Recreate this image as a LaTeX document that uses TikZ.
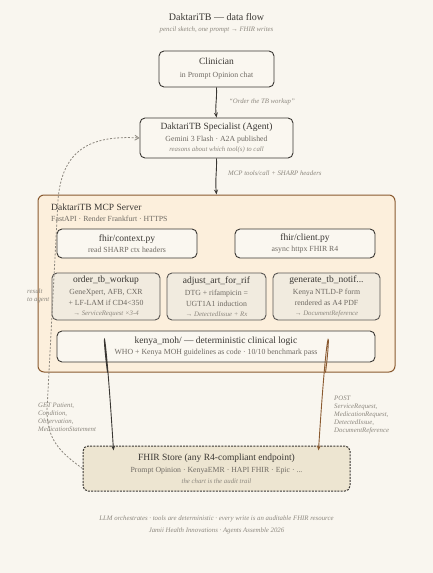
\documentclass[tikz,border=0pt]{standalone}
\usepackage{fontspec}
\setmainfont{Liberation Serif}
\usetikzlibrary{arrows.meta,calc}
\definecolor{bg}{HTML}{F9F6EF}
\definecolor{ink}{HTML}{3A3733}
\definecolor{subc}{HTML}{6E6962}
\definecolor{itc}{HTML}{8C877E}
\definecolor{srvfill}{HTML}{FCEFDC}
\definecolor{srvdraw}{HTML}{8A5A30}
\definecolor{toolfill}{HTML}{F1EBDF}
\definecolor{lightfill}{HTML}{FAF7F0}
\definecolor{storefill}{HTML}{EDE5D1}
\newcommand{\ttl}{\fontsize{9.5}{11}\selectfont\color{ink}}
\newcommand{\subt}{\fontsize{7.8}{10.5}\selectfont\color{subc}}
\newcommand{\itl}{\fontsize{6.8}{10}\selectfont\itshape\color{itc}}
\tikzset{
  box/.style={draw=ink, line width=0.9pt, rounded corners=5pt, align=center, inner sep=2pt, fill=lightfill},
  toolbox/.style={box, fill=toolfill, draw=ink!85},
  lbl/.style={align=left, inner sep=0pt, anchor=west},
  arr/.style={-{Stealth[length=5pt,width=4pt]}, line width=0.9pt, draw=ink},
}
\begin{document}
\begin{tikzpicture}[x=1pt,y=-1pt]
\fill[bg] (0,0) rectangle (433,573);
\useasboundingbox (0,0) rectangle (433,573);

\node[inner sep=0pt] (title) at (216.5,17) {\fontsize{10}{12}\selectfont\color{ink}DaktariTB — data flow};
\node[inner sep=0pt] (subtitle) at (216.5,30) {\itl pencil sketch, one prompt → FHIR writes};

\node[box, minimum width=115pt, minimum height=36pt] (clin) at (216.5,69)
  {\ttl Clinician\\[1pt]\subt in Prompt Opinion chat};

\node[box, minimum width=153pt, minimum height=40pt] (agent) at (216.5,138)
  {\ttl DaktariTB Specialist (Agent)\\[0pt]\subt Gemini 3 Flash · A2A published\\[-2pt]\itl reasons about which tool(s) to call};

\node[draw=srvdraw, fill=srvfill, line width=1pt, rounded corners=6pt, minimum width=357pt, minimum height=177pt] (server) at (216.5,283.5) {};
\node[lbl] (srvt) at (51,207.5) {\ttl DaktariTB MCP Server};
\node[lbl] (srvs) at (51,219) {\subt FastAPI · Render Frankfurt · HTTPS};

\node[box, minimum width=140pt, minimum height=29pt] (ctx) at (127,243.5)
  {\ttl fhir/context.py\\[-1pt]\subt read SHARP ctx headers};
\node[box, minimum width=140pt, minimum height=29pt] (cli) at (305,243.5)
  {\ttl fhir/client.py\\[-1pt]\subt async httpx FHIR R4};

\node[toolbox, minimum width=108pt, minimum height=47pt] (t1) at (106,296.5)
  {\ttl order\_tb\_workup\\[0pt]\subt GeneXpert, AFB, CXR\\[-1pt]\subt + LF-LAM if CD4<350\\[-2pt]\itl → ServiceRequest ×3-4};
\node[toolbox, minimum width=99pt, minimum height=47pt] (t2) at (216.5,296.5)
  {\ttl adjust\_art\_for\_rif\\[0pt]\subt DTG + rifampicin =\\[-1pt]\subt UGT1A1 induction\\[-2pt]\itl → DetectedIssue + Rx};
\node[toolbox, minimum width=107pt, minimum height=47pt] (t3) at (326.5,296.5)
  {\ttl generate\_tb\_notif...\\[0pt]\subt Kenya NTLD-P form\\[-1pt]\subt rendered as A4 PDF\\[-2pt]\itl → DocumentReference};

\node[box, minimum width=318pt, minimum height=31pt] (kenya) at (216,346.5)
  {\ttl kenya\_moh/ — deterministic clinical logic\\[-1pt]\subt WHO + Kenya MOH guidelines as code · 10/10 benchmark pass};

\node[box, fill=storefill, dash pattern=on 2pt off 1.2pt, line width=1pt, minimum width=267pt, minimum height=45pt] (store) at (216.5,468.5)
  {\ttl FHIR Store (any R4-compliant endpoint)\\[0pt]\subt Prompt Opinion · KenyaEMR · HAPI FHIR · Epic · ...\\[-1pt]\itl the chart is the audit trail};

% connectors
\draw[arr] (clin.south) .. controls (217,100) and (215,106) .. (agent.north);
\node[lbl] (l1) at (229,102) {\itl “Order the TB workup”};
\draw[arr] (agent.south) .. controls (217,170) and (215,180) .. (server.north);
\node[lbl] (l2) at (228,173) {\itl MCP tools/call + SHARP headers};

\draw[arr] ([xshift=70pt]server.south west) .. controls ([xshift=64pt,yshift=45pt]server.south west) and ([xshift=67pt,yshift=64pt]server.south west) .. ([xshift=31pt,yshift=-5pt]store.north west);
\draw[arr, draw=srvdraw, -{Stealth[length=5pt,width=4pt,fill=srvdraw]}] ([xshift=-70pt]server.south east) .. controls ([xshift=-64pt,yshift=45pt]server.south east) and ([xshift=-68pt,yshift=64pt]server.south east) .. ([xshift=-32pt,yshift=-5pt]store.north east);

\node[lbl, anchor=north west] (lget) at (38,400) {\itl\begin{tabular}{@{}l@{}}GET Patient,\\[-2pt]Condition,\\[-2pt]Observation,\\[-2pt]MedicationStatement\end{tabular}};
\node[lbl, anchor=north west] (lpost) at (334,393) {\itl\begin{tabular}{@{}l@{}}POST\\[-2pt]ServiceRequest,\\[-2pt]MedicationRequest,\\[-2pt]DetectedIssue,\\[-2pt]DocumentReference\end{tabular}};

\draw[draw=itc, line width=0.8pt, dash pattern=on 2pt off 1.6pt, -{Straight Barb[length=4pt,width=5pt]}]
  (store.west) .. controls (60,452) and (47,440) .. (47,410)
  -- (58,200) .. controls (62,150) and (90,135) .. (agent.west);
\node[lbl, anchor=north west] (lres) at (27,286) {\itl\begin{tabular}{@{}l@{}}result\\[-2pt]to agent\end{tabular}};

\node[inner sep=0pt] (f1) at (216.5,519) {\itl LLM orchestrates · tools are deterministic · every write is an auditable FHIR resource};
\node[inner sep=0pt] (f2) at (216.5,531) {\itl Jamii Health Innovations · Agents Assemble 2026};
\end{tikzpicture}
\end{document}
